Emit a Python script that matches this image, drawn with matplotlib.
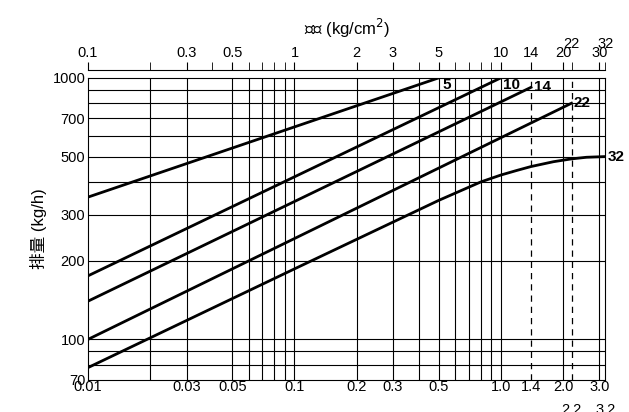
import matplotlib
matplotlib.use("Agg")
import matplotlib.pyplot as plt
import numpy as np

plt.rcParams['font.family'] = ['Liberation Sans', 'Noto Sans CJK SC']

# discharge curves, x = pressure difference (MPa), y = kg/h
x5 = [0.01, 0.5]
y5 = [350, 1000]
x10 = [0.01, 1.0]
y10 = [175, 1000]
x14 = [0.01, 1.4]
y14 = [140, 920]
x22 = [0.01, 2.2]
y22 = [100, 800]
x32 = [0.01, 0.1, 0.5, 0.8, 1.0, 1.2, 1.4, 1.8, 2.2, 2.6, 3.2]
y32 = [78, 186, 340, 400, 425, 443, 458, 478, 490, 497, 500]

bottom_ticks = [0.01, 0.03, 0.05, 0.1, 0.2, 0.3, 0.5, 1.0, 1.4, 2.0, 3.0]
bottom_labels = ["0.01", "0.03", "0.05", "0.1", "0.2", "0.3", "0.5", "1.0", "1.4", "2.0", "3.0"]
top_ticks = [0.1, 0.3, 0.5, 1, 2, 3, 5, 10, 14, 20, 30]
top_minor = [0.2, 0.4, 0.6, 0.7, 0.8, 0.9, 4, 6, 7, 8, 9, 22, 32]
y_ticks = [70, 100, 200, 300, 500, 700, 1000]
vgrid = [0.02, 0.03, 0.05, 0.06, 0.07, 0.08, 0.09, 0.1, 0.2, 0.3, 0.4, 0.5,
         0.6, 0.7, 0.8, 0.9, 1.0, 2.0, 3.0]
hgrid = [80, 90, 100, 200, 300, 400, 500, 600, 700, 800, 900]

fig = plt.figure(figsize=(6.29, 4.12), dpi=100)
ax = fig.add_axes([0.14, 0.078, 0.822, 0.733])
ax.set_xscale('log')
ax.set_yscale('log')
ax.set_xlim(0.01, 3.2)
ax.set_ylim(70, 1000)

for v in vgrid:
    ax.axvline(v, color='black', lw=0.8)
for h in hgrid:
    ax.axhline(h, color='black', lw=0.8)
for v in [1.4, 2.2]:
    ax.axvline(v, color='black', lw=0.9, ls=(0, (5, 4)))

for xs, ys in [(x5, y5), (x10, y10), (x14, y14), (x22, y22), (x32, y32)]:
    ax.plot(xs, ys, color='black', lw=2)

ax.text(0.52, 1000, "5", fontsize=11, fontweight='bold', va='top', ha='left')
ax.text(1.02, 1000, "10", fontsize=11, fontweight='bold', va='top', ha='left')
ax.text(1.45, 920, "14", fontsize=11, fontweight='bold', va='center', ha='left')
ax.text(2.25, 800, "22", fontsize=11, fontweight='bold', va='center', ha='left')
ax.text(3.3, 500, "32", fontsize=11, fontweight='bold', va='center', ha='left', clip_on=False)

ax.set_xticks(bottom_ticks)
ax.set_xticklabels(bottom_labels)
ax.xaxis.set_minor_locator(matplotlib.ticker.NullLocator())
ax.tick_params(axis='x', length=0, pad=0, labelsize=10.5)
ax.text(2.2, -0.075, "2.2", transform=ax.get_xaxis_transform(), ha='center', va='top', fontsize=10.5)
ax.text(3.2, -0.075, "3.2", transform=ax.get_xaxis_transform(), ha='center', va='top', fontsize=10.5)

ax.set_yticks(y_ticks)
ax.set_yticklabels([str(t) for t in y_ticks])
ax.yaxis.set_minor_locator(matplotlib.ticker.NullLocator())
ax.tick_params(axis='y', length=0, pad=2, labelsize=10.5)
ax.set_ylabel("排量 (kg/h)", fontsize=12, labelpad=4)

top = ax.twiny()
top.set_xscale('log')
top.set_xlim(0.1, 32)
top.spines['top'].set_position(('outward', 6))
for s in ['left', 'right', 'bottom']:
    top.spines[s].set_visible(False)
top.set_xticks(top_ticks)
top.set_xticklabels([str(t) for t in top_ticks])
top.set_xticks(top_minor, minor=True)
top.tick_params(axis='x', which='both', direction='out', length=6, pad=1, labelsize=10.5)
top.text(22, 1.09, "22", transform=top.get_xaxis_transform(), ha='center', va='bottom', fontsize=10.5)
top.text(32, 1.09, "32", transform=top.get_xaxis_transform(), ha='center', va='bottom', fontsize=10.5)
top.set_xlabel("压差 (kg/cm$^2$)", fontsize=12, labelpad=8)

fig.savefig("out.png", dpi=100)
